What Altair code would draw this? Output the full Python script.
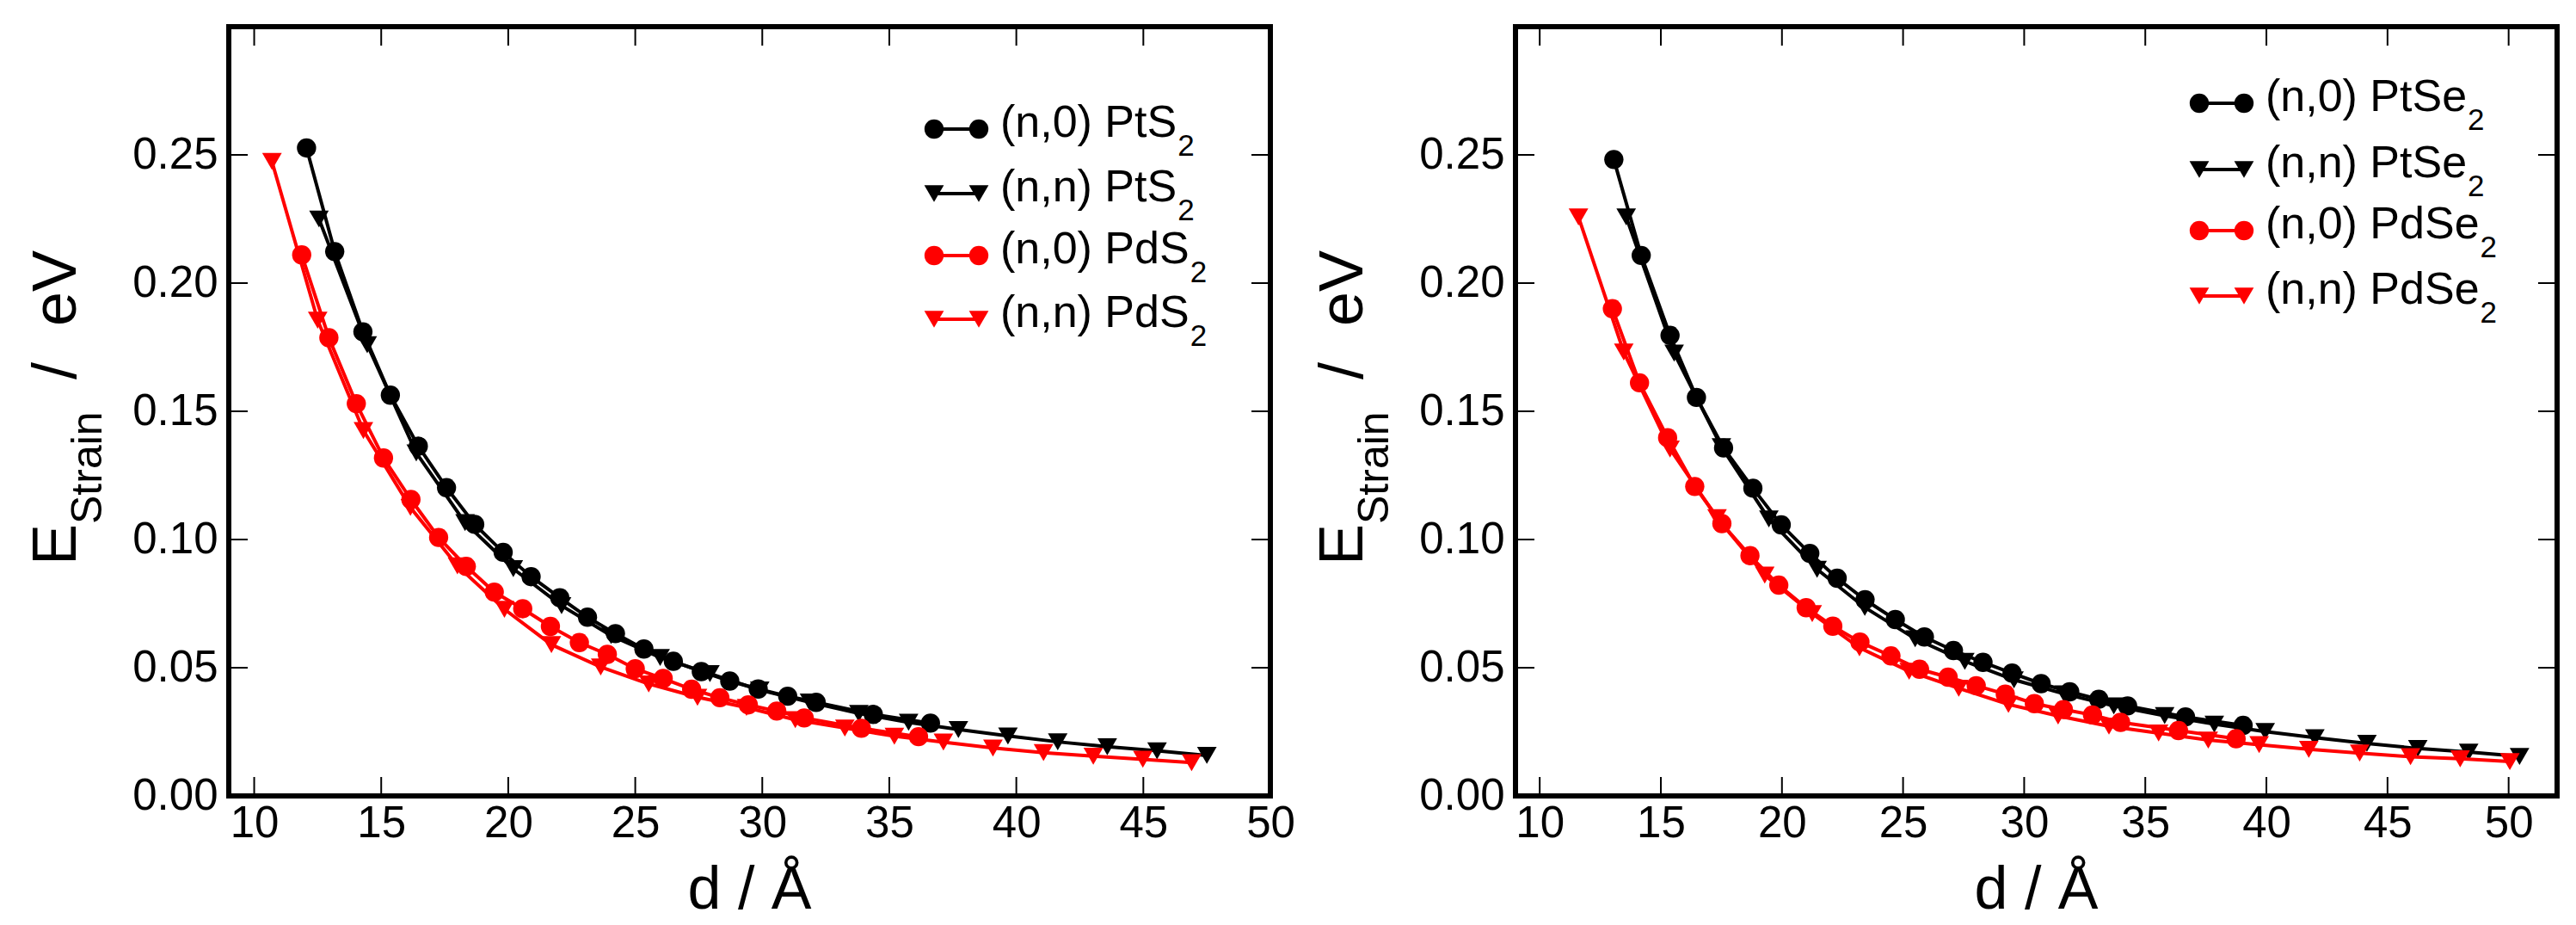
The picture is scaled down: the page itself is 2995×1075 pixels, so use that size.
import altair as alt
import pandas as pd

# ---- left panel: PtS2 / PdS2 (d in Angstrom, E_strain in eV) ----
pts2_zz_d = [12.06, 13.17, 14.28, 15.36, 16.46, 17.57, 18.68, 19.8, 20.9, 22.03, 23.12,
             24.22, 25.34, 26.5, 27.6, 28.72, 29.84, 31.0, 32.12, 34.37, 36.62]
pts2_zz_e = [0.2527, 0.2123, 0.1810, 0.1563, 0.1364, 0.1202, 0.1059, 0.0950, 0.0855, 0.0773, 0.0697,
             0.0633, 0.0573, 0.0525, 0.0485, 0.0448, 0.0417, 0.0389, 0.0365, 0.0318, 0.0284]
pts2_ac_d = [12.55, 14.45, 16.38, 18.3, 20.2, 22.1, 24.05, 25.98, 27.94, 29.9, 31.86,
             33.8, 35.76, 37.72, 39.67, 41.63, 43.58, 45.54, 47.5]
pts2_ac_e = [0.2250, 0.1760, 0.1338, 0.1066, 0.0886, 0.0742, 0.0625, 0.0540, 0.0477, 0.0413, 0.0366,
             0.0322, 0.0287, 0.0259, 0.0234, 0.0211, 0.0192, 0.0176, 0.0158]
pds2_zz_d = [11.87, 12.94, 14.02, 15.09, 16.17, 17.26, 18.35, 19.45, 20.57, 21.66, 22.8,
             23.9, 25.0, 26.1, 27.22, 28.33, 29.45, 30.57, 31.65, 33.9, 36.15]
pds2_zz_e = [0.2110, 0.1787, 0.1530, 0.1318, 0.1156, 0.1008, 0.0895, 0.0795, 0.0730, 0.0661, 0.0598,
             0.0552, 0.0496, 0.0458, 0.0416, 0.0383, 0.0355, 0.0331, 0.0304, 0.0264, 0.0231]
pds2_ac_d = [10.7, 12.5, 14.3, 16.15, 18.0, 19.85, 21.7, 23.64, 25.53, 27.45, 29.38,
             31.3, 33.25, 35.2, 37.13, 39.08, 41.07, 43.03, 44.98, 46.9]
pds2_ac_e = [0.2474, 0.1855, 0.1425, 0.1125, 0.0897, 0.0728, 0.0590, 0.0503, 0.0437, 0.0385, 0.0345,
             0.0297, 0.0265, 0.0233, 0.0210, 0.0187, 0.0169, 0.0155, 0.0143, 0.0130]

# ---- right panel: PtSe2 / PdSe2 ----
ptse2_zz_d = [13.06, 14.19, 15.38, 16.47, 17.59, 18.8, 19.97, 21.15, 22.28, 23.43, 24.68,
              25.88, 27.08, 28.3, 29.5, 30.7, 31.88, 33.08, 34.27, 36.66, 39.04]
ptse2_zz_e = [0.2482, 0.2108, 0.1796, 0.1554, 0.1357, 0.1200, 0.1057, 0.0946, 0.0849, 0.0765, 0.0688,
              0.0620, 0.0567, 0.0521, 0.0479, 0.0438, 0.0406, 0.0377, 0.0351, 0.0308, 0.0275]
ptse2_ac_d = [13.57, 15.55, 17.5, 19.46, 21.45, 23.42, 25.5, 27.55, 29.58, 31.65, 33.7,
              35.8, 37.85, 39.95, 42.0, 44.15, 46.25, 48.35, 50.45]
ptse2_ac_e = [0.2258, 0.1727, 0.1362, 0.1080, 0.0884, 0.0735, 0.0613, 0.0525, 0.0453, 0.0398, 0.0351,
              0.0313, 0.0280, 0.0251, 0.0227, 0.0205, 0.0185, 0.0171, 0.0154]
pdse2_zz_d = [13.0, 14.12, 15.28, 16.4, 17.52, 18.68, 19.87, 21.0, 22.1, 23.22, 24.5,
              25.68, 26.86, 28.02, 29.22, 30.42, 31.62, 32.82, 33.98, 36.37, 38.75]
pdse2_zz_e = [0.1900, 0.1611, 0.1397, 0.1207, 0.1062, 0.0937, 0.0822, 0.0734, 0.0662, 0.0600, 0.0546,
              0.0494, 0.0463, 0.0430, 0.0397, 0.0360, 0.0337, 0.0316, 0.0287, 0.0255, 0.0223]
pdse2_ac_d = [11.6, 13.47, 15.38, 17.32, 19.29, 21.25, 23.2, 25.25, 27.3, 29.35, 31.4,
              33.5, 35.55, 37.6, 39.7, 41.75, 43.85, 45.95, 48.0, 50.05]
pdse2_ac_e = [0.2258, 0.1731, 0.1353, 0.1085, 0.0861, 0.0711, 0.0578, 0.0486, 0.0420, 0.0357, 0.0312,
              0.0272, 0.0245, 0.0218, 0.0200, 0.0182, 0.0167, 0.0153, 0.0145, 0.0134]

x_ticks = [10, 15, 20, 25, 30, 35, 40, 45, 50]
y_ticks = [0.0, 0.05, 0.10, 0.15, 0.20, 0.25]

left_labels = ["(n,0) PtS", "(n,n) PtS", "(n,0) PdS", "(n,n) PdS"]
right_labels = ["(n,0) PtSe", "(n,n) PtSe", "(n,0) PdSe", "(n,n) PdSe"]

BLACK = "#000000"
RED = "#ff0000"
FONT = "Liberation Sans"
W, H = 1211, 894
TICK = 22
LINE_W = 4
SIZES = {"circle": 500, "triangle-down": 520}
LEG_FS = 52

# Arial / Liberation Sans advance widths (per 1000 em) for placing subscripts
ADV = {"(": 333, ")": 333, "n": 556, ",": 278, "0": 556, " ": 278, "P": 667,
       "t": 278, "S": 667, "d": 556, "e": 556}


def text_width(s, size):
    return sum(ADV.get(c, 556) for c in s) * size / 1000


def one():
    return alt.Data(values=[{}])


def rot_text(txt, x, y, size):
    return alt.Chart(one()).mark_text(
        font=FONT, color=BLACK, angle=270, align="left", baseline="alphabetic", fontSize=size
    ).encode(x=alt.value(x), y=alt.value(y), text=alt.value(txt))


def panel(series, labels, xmax, legend_x, legend_y):
    xs = alt.Scale(domain=[9, xmax], nice=False, zero=False)
    ys = alt.Scale(domain=[0, 0.3], nice=False, zero=False)
    xaxis = alt.Axis(values=x_ticks, title=None, ticks=False, tickSize=0, domain=False, grid=False,
                     labelFont=FONT, labelFontSize=51, labelColor=BLACK, labelPadding=7,
                     labelFlush=False, labelOverlap=False, labelBound=False)
    yaxis = alt.Axis(values=y_ticks, format=".2f", title=None, ticks=False, tickSize=0, domain=False,
                     grid=False, labelFont=FONT, labelFontSize=51, labelColor=BLACK, labelPadding=13,
                     labelFlush=False, labelOverlap=False, labelBound=False)

    layers = []
    for d, e, color, shape in series:
        df = pd.DataFrame({"d": d, "e": e})
        base = alt.Chart(df).encode(x=alt.X("d:Q", scale=xs, axis=xaxis),
                                    y=alt.Y("e:Q", scale=ys, axis=yaxis))
        layers.append(base.mark_line(color=color, strokeWidth=LINE_W))
        layers.append(base.mark_point(shape=shape, filled=True, size=SIZES[shape],
                                      color=color, opacity=1))

    # inward ticks on all four sides
    xt = alt.Chart(pd.DataFrame({"t": x_ticks})).mark_rule(color=BLACK, strokeWidth=2)
    yt = alt.Chart(pd.DataFrame({"t": y_ticks})).mark_rule(color=BLACK, strokeWidth=2)
    xenc = alt.X("t:Q", scale=xs, axis=xaxis)
    yenc = alt.Y("t:Q", scale=ys, axis=yaxis)
    layers += [
        xt.encode(x=xenc, y=alt.value(H), y2=alt.value(H - TICK)),
        xt.encode(x=xenc, y=alt.value(0), y2=alt.value(TICK)),
        yt.encode(y=yenc, x=alt.value(0), x2=alt.value(TICK)),
        yt.encode(y=yenc, x=alt.value(W - TICK), x2=alt.value(W)),
    ]

    # axis titles
    layers += [
        rot_text("E", -178, 626, 72),
        rot_text("Strain", -148, 578, 50),
        rot_text("/", -178, 410, 72),
        rot_text("eV", -178, 348, 72),
        alt.Chart(one()).mark_text(font=FONT, color=BLACK, fontSize=70, align="center",
                                   baseline="alphabetic").encode(
            x=alt.value(W / 2), y=alt.value(H + 131), text=alt.value("d / Å")),
    ]

    # legend: marker-line-marker, label with subscript 2
    for i, ((d, e, color, shape), label) in enumerate(zip(series, labels)):
        ly = legend_y[i]
        x1, x2 = legend_x, legend_x + 52
        layers.append(alt.Chart(one()).mark_rule(color=color, strokeWidth=LINE_W).encode(
            x=alt.value(x1), x2=alt.value(x2), y=alt.value(ly)))
        for px in (x1, x2):
            layers.append(alt.Chart(one()).mark_point(
                shape=shape, filled=True, size=SIZES[shape], color=color, opacity=1).encode(
                x=alt.value(px), y=alt.value(ly)))
        t0 = x2 + 25
        layers.append(alt.Chart(one()).mark_text(
            font=FONT, fontSize=LEG_FS, color=BLACK, align="left", baseline="alphabetic").encode(
            x=alt.value(t0), y=alt.value(ly + 9), text=alt.value(label)))
        layers.append(alt.Chart(one()).mark_text(
            font=FONT, fontSize=35, color=BLACK, align="left", baseline="alphabetic").encode(
            x=alt.value(t0 + text_width(label, LEG_FS) + 1), y=alt.value(ly + 31),
            text=alt.value("2")))

    # invisible anchor fixing the panel's left/top extent
    layers.append(alt.Chart(one()).mark_rule(strokeOpacity=0).encode(
        x=alt.value(-255), x2=alt.value(-254), y=alt.value(-20)))

    return alt.layer(*layers).properties(width=W, height=H)


left = panel(
    [(pts2_zz_d, pts2_zz_e, BLACK, "circle"),
     (pts2_ac_d, pts2_ac_e, BLACK, "triangle-down"),
     (pds2_zz_d, pds2_zz_e, RED, "circle"),
     (pds2_ac_d, pds2_ac_e, RED, "triangle-down")],
    left_labels, 50, 820, [119, 194, 266, 340])

right = panel(
    [(ptse2_zz_d, ptse2_zz_e, BLACK, "circle"),
     (ptse2_ac_d, ptse2_ac_e, BLACK, "triangle-down"),
     (pdse2_zz_d, pdse2_zz_e, RED, "circle"),
     (pdse2_ac_d, pdse2_ac_e, RED, "triangle-down")],
    right_labels, 52, 795, [89, 166, 237, 313])

chart = (
    alt.hconcat(left, right, spacing=285, bounds="flush")
    .properties(padding={"left": 0, "top": 0, "right": 0, "bottom": 0}, background="white")
    .configure_view(stroke=BLACK, strokeWidth=6)
)

chart.save("out.html", embed_options={"renderer": "svg", "actions": False})
